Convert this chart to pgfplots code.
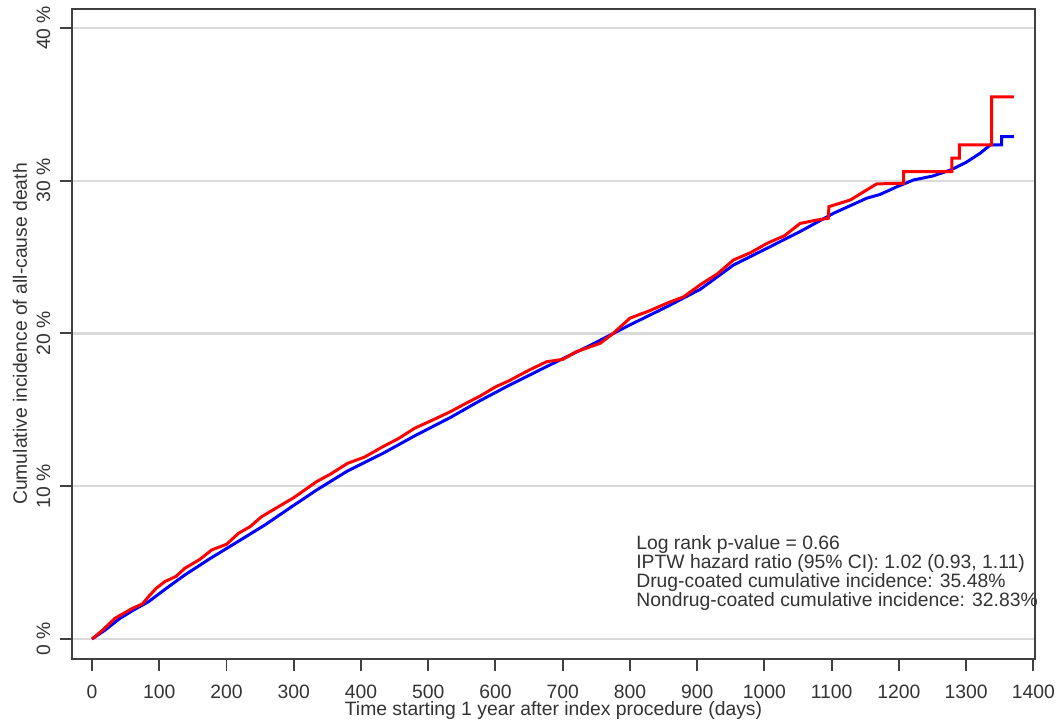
\documentclass[border=0pt]{standalone}
\usepackage{pgfplots}
\pgfplotsset{compat=1.18}
\usepackage{fontspec}
\setmainfont{Liberation Sans}
\definecolor{txtgray}{HTML}{333333}
\definecolor{boxgray}{HTML}{404040}
\definecolor{gridgray}{HTML}{DADADA}

\begin{document}
\begin{tikzpicture}
\useasboundingbox (0,0) rectangle (21.28cm,14.5cm);
\begin{axis}[
    at={(1.44cm,1.32cm)}, anchor=south west,
    scale only axis,
    width=19.26cm, height=13.0cm,
    xmin=-29.8, xmax=1402.5,
    ymin=-1.31, ymax=41.24,
    xtick={0,100,...,1400},
    ytick={0,10,20,30,40},
    yticklabels={0 \%,10 \%,20 \%,30 \%,40 \%},
    xtick pos=bottom, ytick pos=left,
    /pgf/number format/assume math mode=true,
    /pgf/number format/set thousands separator={},
    tick align=outside,
    major tick length=0.24cm,
    tick style={boxgray, line width=1.1pt},
    axis line style={boxgray, line width=1.1pt},
    ymajorgrids,
    grid style={gridgray, line width=1.2pt},
    every tick label/.append style={font=\fontsize{11}{12}\selectfont, text=txtgray},
    xticklabel style={anchor=base, inner sep=0pt, yshift=-0.56cm},
    yticklabel style={rotate=90, anchor=base, inner sep=0pt, yshift=0.2cm},
    xlabel={Time starting 1 year after index procedure (days)},
    ylabel={Cumulative incidence of all-cause death},
    label style={font=\fontsize{11}{12}\selectfont, text=txtgray},
    xlabel style={at={(axis description cs:0.5,0)}, anchor=base, yshift=-1.14cm},
    ylabel style={at={(axis description cs:0,0.5)}, anchor=base, yshift=0.9cm},
    clip=false,
]

% Nondrug-coated (blue)
\addplot[blue, line width=1.7pt] coordinates {
    (0,0) (20,0.6) (40,1.3) (60,1.85) (84,2.44) (110,3.3) (138,4.19) (175,5.25)
    (213,6.27) (257,7.46) (295,8.6) (334,9.75) (380,11.0) (433,12.16) (480,13.3)
    (533,14.5) (577,15.6) (620,16.6) (676,17.83) (740,19.2) (800,20.56)
    (855,21.75) (905,22.9) (954,24.48) (1004,25.58) (1053,26.67) (1103,27.87)
    (1152,28.85) (1172,29.1) (1197,29.6) (1222,30.05) (1250,30.3) (1277,30.7)
    (1300,31.2) (1321,31.8) (1336,32.34) (1353,32.34) (1353,32.88) (1371,32.88)
};

% Drug-coated (red)
\addplot[red, line width=1.7pt] coordinates {
    (0,0) (15,0.55) (34,1.35) (60,2.0) (75,2.3) (84,2.77) (95,3.3) (108,3.75)
    (125,4.1) (138,4.63) (160,5.2) (178,5.83) (200,6.2) (218,6.92) (235,7.35)
    (252,8.0) (275,8.6) (300,9.25) (334,10.3) (355,10.8) (380,11.5) (405,11.9)
    (433,12.6) (455,13.1) (480,13.8) (505,14.3) (533,14.88) (555,15.4)
    (577,15.9) (600,16.5) (620,16.9) (650,17.6) (676,18.15) (700,18.3)
    (720,18.8) (756,19.36) (775,20.0) (790,20.6) (800,21.0) (830,21.5)
    (855,21.98) (880,22.4) (905,23.2) (930,23.9) (954,24.81) (980,25.3)
    (1004,25.9) (1030,26.4) (1053,27.2) (1075,27.4) (1095,27.54) (1096,28.3)
    (1128,28.74) (1152,29.39) (1167,29.79) (1207,29.83) (1207,30.6) (1279,30.6)
    (1279,31.47) (1290,31.47) (1290,32.34) (1338,32.34) (1338,35.48) (1371,35.48)
};

\node[anchor=north west, inner sep=0pt, align=left, text=txtgray,
      font=\fontsize{11}{10.8}\selectfont] at (axis cs:809,6.81)
    {Log rank p-value = 0.66\\
     IPTW hazard ratio (95\% CI): 1.02 (0.93, 1.11)\\
     Drug-coated cumulative incidence: 35.48\%\\
     Nondrug-coated cumulative incidence: 32.83\%};
\end{axis}
\end{tikzpicture}
\end{document}
